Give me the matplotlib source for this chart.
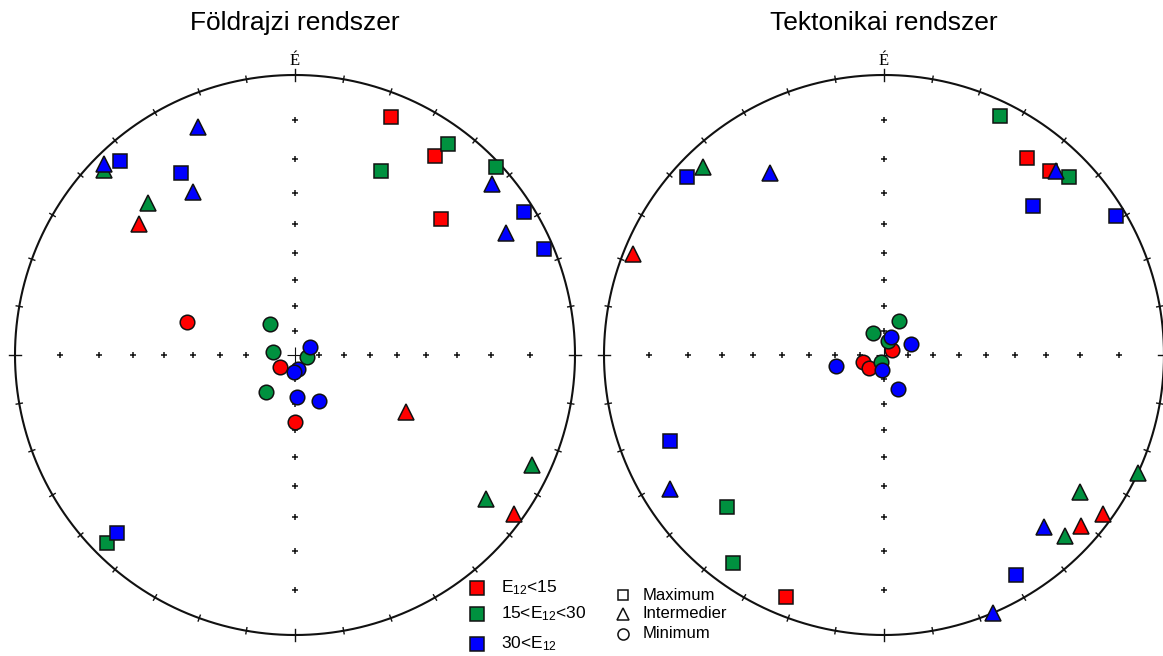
import numpy as np
import matplotlib
matplotlib.use('Agg')
import matplotlib.pyplot as plt

plt.rcParams['font.family'] = ['Liberation Sans', 'DejaVu Sans']
plt.rcParams['mathtext.default'] = 'regular'

# E12 class of the 12 stress tensors in each net
tensor_class = [0, 0, 0, 1, 1, 1, 1, 2, 2, 2, 2, 2]
class_labels = ['E$_{12}$<15', '15<E$_{12}$<30', '30<E$_{12}$']
class_colors = ['#ff0000', '#00913f', '#0000ff']

axis_labels = ['Maximum', 'Intermedier', 'Minimum']
axis_markers = ['s', '^', 'o']

# Földrajzi rendszer: trend / plunge (deg) of the principal axes
geo_max_trend = [22, 35, 47, 25, 36, 47, 225, 318, 328, 58, 67, 225]
geo_max_plunge = [5, 8, 19, 18, 4, 1, 3, 4, 15, 2, 2, 6]
geo_int_trend = [310, 117, 126, 316, 115, 127, 314, 337, 315, 328, 49, 60]
geo_int_plunge = [18, 42, 2, 16, 4, 9, 3, 7, 2, 21, 4, 8]
geo_min_trend = [287, 231, 180, 321, 277, 100, 218, 169, 184, 63, 177, 152]
geo_min_plunge = [46, 82, 63, 74, 81, 85, 71, 84, 83, 83, 73, 69]

# Tektonikai rendszer
tec_max_trend = [36, 42, 202, 26, 46, 226, 216, 45, 59, 312, 248, 149]
tec_max_plunge = [8, 7, 4, 3, 5, 14, 5, 16, 2, 3, 11, 5]
tec_int_trend = [292, 126, 131, 316, 115, 125, 135, 43, 328, 238, 137, 157]
tec_int_plunge = [2, 2, 4, 4, 0, 9, 5, 6, 15, 6, 10, 0]
tec_min_trend = [251, 229, 56, 207, 334, 24, 15, 257, 188, 21, 67, 157]
tec_min_plunge = [81, 82, 86, 87, 80, 75, 84, 70, 84, 82, 78, 75]


def wulff(trend, plunge):
    """Stereographic (Wulff) projection, north up."""
    t = np.radians(np.asarray(trend, dtype=float))
    p = np.radians(np.asarray(plunge, dtype=float))
    r = np.tan((np.pi / 2 - p) / 2)
    return r * np.sin(t), r * np.cos(t)


def draw_net(ax, title, axes_data):
    ax.set_xlim(-1, 1)
    ax.set_ylim(-1, 1)
    ax.set_aspect('equal')
    ax.axis('off')

    # primitive circle with 10 degree ticks
    th = np.linspace(0, 2 * np.pi, 721)
    ax.plot(np.cos(th), np.sin(th), color='#111111', lw=1.5, clip_on=False)
    for az in range(0, 360, 10):
        a = np.radians(az)
        d = 0.022 if az % 90 == 0 else 0.011
        ax.plot([(1 - d) * np.sin(a), (1 + d) * np.sin(a)],
                [(1 - d) * np.cos(a), (1 + d) * np.cos(a)],
                color='#111111', lw=1.0, clip_on=False)

    # dip marks every 10 degrees along the N-S and E-W diameters
    rr = np.tan(np.radians(90 - np.arange(10, 90, 10)) / 2)
    for az in (0, 90, 180, 270):
        a = np.radians(az)
        ax.plot(rr * np.sin(a), rr * np.cos(a), '+', color='#111111',
                ms=4.5, mew=1.1, ls='none')
    ax.plot(0, 0, '+', color='#111111', ms=11, mew=0.8)

    ax.text(0, 1.036, 'É', ha='center', va='baseline',
            family=['Liberation Serif', 'DejaVu Serif'], fontsize=12)
    ax.text(0, 1.16, title, ha='center', va='baseline', fontsize=19)

    sizes = {'s': 10.5, '^': 12, 'o': 10.5}
    cls = np.array(tensor_class)
    for marker, (trend, plunge) in zip(axis_markers, axes_data):
        x, y = wulff(trend, plunge)
        for k, color in enumerate(class_colors):
            m = cls == k
            ax.plot(x[m], y[m], marker, ms=sizes[marker], mfc=color,
                    mec='#111111', mew=1.1, ls='none', clip_on=False, zorder=3)


fig = plt.figure(figsize=(11.63, 6.56), dpi=100)
W, H = 1163, 656
R = 280

ax1 = fig.add_axes([(295 - R) / W, (H - 355 - R) / H, 2 * R / W, 2 * R / H])
ax2 = fig.add_axes([(884 - R) / W, (H - 355 - R) / H, 2 * R / W, 2 * R / H])

draw_net(ax1, 'Földrajzi rendszer',
         [(geo_max_trend, geo_max_plunge),
          (geo_int_trend, geo_int_plunge),
          (geo_min_trend, geo_min_plunge)])
draw_net(ax2, 'Tektonikai rendszer',
         [(tec_max_trend, tec_max_plunge),
          (tec_int_trend, tec_int_plunge),
          (tec_min_trend, tec_min_plunge)])

# legends, placed in pixel coordinates
lax = fig.add_axes([0, 0, 1, 1], zorder=5)
lax.set_xlim(0, W)
lax.set_ylim(H, 0)
lax.axis('off')

for label, color, yy in zip(class_labels, class_colors, [588, 614, 644]):
    lax.plot(477, yy, 's', ms=10, mfc=color, mec='#111111', mew=1.1)
    lax.text(501, yy, label, va='center', ha='left', fontsize=12.5)

leg_sizes = {'s': 7.5, '^': 9, 'o': 8}
for label, marker, yy in zip(axis_labels, axis_markers, [595, 614, 634]):
    lax.plot(623, yy, marker, ms=leg_sizes[marker], mfc='white',
             mec='#111111', mew=1.1)
    lax.text(643, yy, label, va='center', ha='left', fontsize=12)

fig.savefig('out.png', dpi=100)
